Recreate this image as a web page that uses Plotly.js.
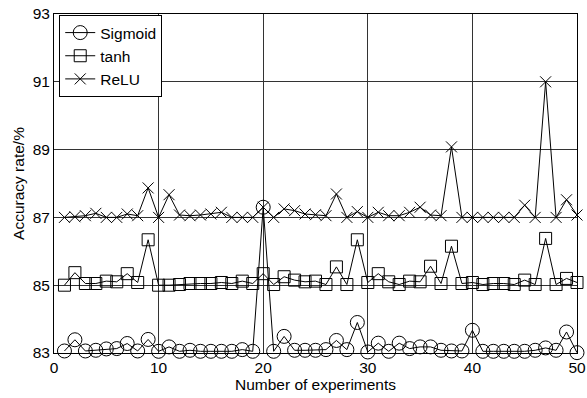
<!DOCTYPE html>
<html>
<head>
<meta charset="utf-8">
<script src="https://cdn.plot.ly/plotly-3.0.1.min.js"></script>
<style>html,body{margin:0;padding:0;background:#fff;}#chart{width:587px;height:398px;}</style>
</head>
<body>
<div id="chart"></div>
<script>
const experiments = Array.from({length: 50}, (_, i) => i + 1);
const sigmoid = [83.06, 83.39, 83.06, 83.08, 83.12, 83.13, 83.28, 83.06, 83.40, 83.05,
                 83.18, 83.05, 83.08, 83.05, 83.05, 83.05, 83.05, 83.10, 83.05, 87.30,
                 83.05, 83.49, 83.08, 83.08, 83.08, 83.10, 83.37, 83.10, 83.90, 83.03,
                 83.29, 83.05, 83.29, 83.13, 83.18, 83.18, 83.08, 83.06, 83.06, 83.67,
                 83.05, 83.05, 83.05, 83.05, 83.05, 83.08, 83.15, 83.08, 83.62, 83.01];
const tanh = [85.00, 85.37, 85.05, 85.05, 85.12, 85.10, 85.34, 85.08, 86.34, 85.00,
              85.00, 85.02, 85.05, 85.05, 85.05, 85.08, 85.05, 85.12, 85.05, 85.34,
              85.02, 85.25, 85.15, 85.10, 85.12, 85.02, 85.54, 85.02, 86.34, 85.08,
              85.34, 85.10, 85.02, 85.12, 85.10, 85.56, 85.05, 86.15, 85.05, 85.08,
              85.02, 85.05, 85.05, 85.02, 85.15, 85.02, 86.38, 85.02, 85.20, 85.08];
const relu = [87.00, 87.02, 87.05, 87.12, 87.00, 87.00, 87.10, 87.05, 87.87, 87.00,
              87.67, 87.07, 87.05, 87.07, 87.10, 87.15, 87.00, 87.00, 87.00, 87.30,
              87.00, 87.25, 87.20, 87.10, 87.08, 87.05, 87.69, 87.00, 87.17, 87.00,
              87.15, 87.05, 87.05, 87.15, 87.30, 87.07, 87.05, 89.08, 87.00, 87.00,
              87.00, 87.00, 87.00, 87.00, 87.36, 87.00, 91.00, 87.00, 87.52, 87.07];
const xTicks = [0, 10, 20, 30, 40, 50];
const yTicks = [83, 85, 87, 89, 91, 93];

function series(name, y, symbol, size) {
  return {
    x: experiments, y: y, name: name, type: 'scatter', mode: 'lines+markers',
    cliponaxis: false,
    line: {color: '#000', width: 1},
    marker: {symbol: symbol, size: size, color: '#000', line: {color: '#000', width: 1}}
  };
}
const data = [
  series('Sigmoid', sigmoid, 'circle-open', 14),
  series('tanh', tanh, 'square-open', 12),
  series('ReLU', relu, 'x-thin-open', 11)
];
const font = {family: 'Liberation Sans, Arial, sans-serif', size: 15.5, color: '#000'};
const layout = {
  width: 587, height: 398,
  margin: {l: 54, r: 10, t: 14, b: 45},
  paper_bgcolor: '#fff', plot_bgcolor: '#fff',
  font: font,
  showlegend: true,
  legend: {x: 0.01, y: 0.997, xanchor: 'left', yanchor: 'top', bgcolor: '#fff',
           bordercolor: '#000', borderwidth: 1, font: font, tracegroupgap: 0,
           itemwidth: 30},
  xaxis: {range: [0, 50], tickvals: xTicks, ticktext: xTicks.map(String),
          showgrid: true, gridcolor: '#333', gridwidth: 1, zeroline: false,
          showline: true, linecolor: '#000', linewidth: 1, mirror: true,
          ticks: '', ticklen: 0, tickfont: font,
          title: {text: 'Number of experiments', font: font, standoff: 2}},
  yaxis: {range: [83, 93], tickvals: yTicks, ticktext: yTicks.map(String),
          showgrid: true, gridcolor: '#333', gridwidth: 1, zeroline: false,
          showline: true, linecolor: '#000', linewidth: 1, mirror: true,
          ticks: '', ticklen: 0, tickfont: font,
          title: {text: 'Accuracy rate/%', font: font, standoff: 4}}
};
Plotly.newPlot('chart', data, layout, {displayModeBar: false, staticPlot: true});
</script>
</body>
</html>
